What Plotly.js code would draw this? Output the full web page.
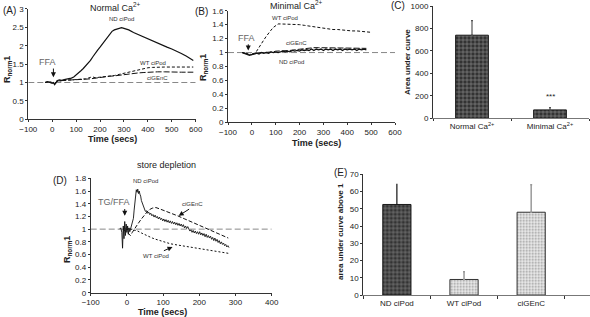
<!DOCTYPE html>
<html><head><meta charset="utf-8">
<script src="https://cdn.plot.ly/plotly-3.0.1.min.js"></script>
<style>html,body{margin:0;padding:0;background:#fff}#g{width:590px;height:317px}</style>
</head><body><div id="g"></div>
<script>
// ---- Panel A: Normal Ca2+ ----
const tA_nd = [-30,-20,-10,0,5,10,15,20,30,40,50,60,70,80,90,100,110,120,130,140,150,160,170,180,190,200,210,220,230,240,250,260,270,280,290,300,310,320,340,360,380,400,420,440,460,480,500,520,540,560,580,590];
const yA_nd = [1.00,1.02,1.00,0.98,1.00,0.94,0.98,1.05,1.07,1.06,1.08,1.09,1.10,1.12,1.15,1.20,1.26,1.32,1.38,1.45,1.52,1.60,1.70,1.80,1.88,1.96,2.04,2.13,2.22,2.31,2.39,2.43,2.45,2.46,2.49,2.47,2.46,2.43,2.36,2.30,2.24,2.18,2.12,2.07,2.01,1.96,1.91,1.86,1.79,1.72,1.64,1.60];
const tA_oth = [-30,-15,0,10,20,40,60,80,100,120,140,160,170,180,200,220,240,260,280,300,320,340,360,380,400,420,440,470,500,540,590];
const yA_wt  = [1.00,1.03,1.00,0.97,1.04,1.05,1.06,1.06,1.07,1.08,1.10,1.14,1.15,1.13,1.14,1.16,1.17,1.19,1.22,1.25,1.29,1.32,1.35,1.38,1.40,1.41,1.42,1.42,1.42,1.42,1.42];
const yA_gen = [1.00,1.02,0.99,0.98,1.03,1.06,1.07,1.07,1.07,1.08,1.09,1.10,1.11,1.12,1.14,1.16,1.17,1.18,1.20,1.22,1.24,1.25,1.26,1.27,1.28,1.29,1.29,1.29,1.28,1.28,1.28];

// ---- Panel B: Minimal Ca2+ ----
const tB_wt = [-40,-30,-20,-10,0,10,20,30,40,50,60,70,80,90,100,110,120,140,160,180,200,220,240,260,280,300,320,340,360,380,400,420,440,460,480,500];
const yB_wt = [1.00,0.99,0.98,0.97,0.98,0.99,1.02,1.08,1.13,1.18,1.23,1.28,1.32,1.36,1.39,1.41,1.41,1.41,1.41,1.40,1.40,1.39,1.38,1.36,1.35,1.34,1.34,1.33,1.33,1.32,1.32,1.31,1.31,1.30,1.30,1.29];
const tB_gen = [-40,-30,-20,-10,0,10,20,30,40,50,60,70,80,90,100,110,120,140,160,180,200,220,240,260,280,300,320,340,360,380,400,420,440,460,480];
const yB_gen = [1.00,0.99,0.98,0.97,0.97,0.98,0.99,1.00,1.00,1.00,1.00,1.01,1.01,1.01,1.02,1.02,1.02,1.03,1.03,1.04,1.05,1.06,1.07,1.07,1.07,1.07,1.07,1.07,1.07,1.06,1.07,1.06,1.06,1.06,1.06];
const tB_nd = [-40,-30,-20,-10,0,10,20,30,40,50,60,70,80,90,100,110,120,130,140,150,160,170,180,190,200,210,220,230,240,250,260,270,280,290,300,310,320,330,340,350,360,370,380,390,400,410,420,430,440,450,460,470,480];
const yB_nd = [1.00,0.99,0.98,0.96,0.97,0.98,0.99,0.98,1.00,0.99,1.00,0.99,1.01,1.00,1.01,1.00,1.01,1.02,1.01,1.02,1.01,1.03,1.02,1.03,1.02,1.04,1.03,1.04,1.03,1.05,1.03,1.05,1.04,1.05,1.03,1.05,1.04,1.05,1.03,1.05,1.04,1.05,1.03,1.05,1.04,1.05,1.04,1.05,1.03,1.05,1.04,1.05,1.04];

// ---- Panel C ----
const cCats = ['Normal Ca<sup>2+</sup>','Minimal Ca<sup>2+</sup>'];
const cVals = [740, 75];
const cErr  = [130, 20];

// ---- Panel D: store depletion ----
const tD_nd = [-20,-17,-14,-12,-10,-8,-6,-4,-2,0,2,4,6,8,10,12,14,16,18,20,22,24,26,28,30,32,34,36,38,40,42,45,48,51,54,57,60,63,66,69,72,75,78,81,84,87,90,93,96,99,102,105,108,111,114,117,120,123,126,129,132,135,138,141,144,147,150,153,156,159,162,165,168,171,174,177,180,183,186,189,192,195,198,201,204,207,210,213,216,219,222,225,228,231,234,237,240,243,246,249,252,255,258,261,264,267,270,273,276,279,282];
const yD_nd = [1.00,1.02,0.95,0.70,1.05,0.85,1.12,0.90,1.08,0.95,1.05,0.92,1.02,0.96,1.00,1.05,1.10,1.15,1.17,1.30,1.46,1.52,1.62,1.58,1.63,1.56,1.60,1.55,1.52,1.45,1.42,1.35,1.33,1.28,1.29,1.25,1.27,1.23,1.25,1.21,1.23,1.19,1.22,1.18,1.20,1.16,1.19,1.15,1.17,1.13,1.16,1.12,1.15,1.11,1.14,1.10,1.13,1.09,1.12,1.08,1.11,1.07,1.10,1.06,1.09,1.05,1.08,1.04,1.07,1.02,1.05,1.01,1.04,1.00,0.97,0.99,0.95,0.98,0.94,0.97,0.93,0.96,0.92,0.96,0.91,0.94,0.90,0.93,0.88,0.92,0.87,0.90,0.86,0.89,0.84,0.87,0.82,0.86,0.81,0.84,0.79,0.82,0.77,0.80,0.76,0.78,0.74,0.76,0.72,0.74,0.71];
const tD_gen = [-10,0,5,10,15,20,30,40,50,60,70,80,90,100,120,140,160,180,200,220,240,260,280];
const yD_gen = [1.00,0.95,0.92,0.90,0.95,1.00,1.08,1.16,1.24,1.30,1.33,1.34,1.32,1.30,1.26,1.21,1.16,1.11,1.06,1.01,0.96,0.91,0.86];
const tD_wt = [-10,-5,0,5,10,20,30,40,50,60,70,80,90,100,110,120,140,160,180,200,220,240,260,280];
const yD_wt = [1.00,1.03,0.97,1.02,1.00,0.99,0.97,0.94,0.91,0.88,0.86,0.84,0.82,0.80,0.78,0.77,0.75,0.73,0.715,0.70,0.68,0.66,0.64,0.62];

// ---- Panel E ----
const eCats = ['ND ciPod','WT ciPod','ciGEnC'];
const eVals = [52.5, 9, 48];
const eErr  = [12, 4.5, 16];

const W = 590, H = 317;
const px = (x) => x / W, py = (y) => 1 - y / H;
const FONT = 'Liberation Sans, Arial, sans-serif';

function line(x, y, xa, ya, dash, width) {
  return {type:'scatter', mode:'lines', x:x, y:y, xaxis:xa, yaxis:ya,
    line:{color:'#111', width:width || 1, dash:dash || 'solid'}, showlegend:false, hoverinfo:'skip'};
}

const darkMarker = {color:'#3c3c3c', line:{color:'#1a1a1a', width:1},
  pattern:{shape:'+', fgcolor:'#9a9a9a', bgcolor:'#333333', size:4, solidity:0.25}};
const lightMarker = {color:'#e0e0e0', line:{color:'#333', width:1},
  pattern:{shape:'.', fgcolor:'#999', bgcolor:'#ebebeb', size:3, solidity:0.3}};

const traces = [
  line(tA_oth, yA_gen, 'x', 'y', '6px,2px', 1),
  line(tA_oth, yA_wt, 'x', 'y', '3px,2px', 1),
  line(tA_nd, yA_nd, 'x', 'y', 'solid', 1.2),
  line(tB_gen, yB_gen, 'x2', 'y2', '6px,2px', 1),
  line(tB_nd, yB_nd, 'x2', 'y2', 'solid', 1.3),
  line(tB_wt, yB_wt, 'x2', 'y2', '3px,2px', 1),
  {type:'bar', x:cCats, y:cVals, xaxis:'x3', yaxis:'y3', width:0.42, marker:darkMarker,
   error_y:{type:'data', symmetric:false, array:cErr, arrayminus:[0,0], color:'#555', thickness:1.2, width:1},
   showlegend:false, hoverinfo:'skip'},
  line(tD_gen, yD_gen, 'x4', 'y4', '4px,2px', 1),
  line(tD_wt, yD_wt, 'x4', 'y4', '2px,2px', 1),
  line(tD_nd, yD_nd, 'x4', 'y4', 'solid', 0.9),
  {type:'bar', x:[eCats[0]], y:[eVals[0]], xaxis:'x5', yaxis:'y5', width:0.42, marker:darkMarker,
   error_y:{type:'data', symmetric:false, array:[eErr[0]], arrayminus:[0], color:'#111', thickness:1.2, width:0},
   showlegend:false, hoverinfo:'skip'},
  {type:'bar', x:eCats.slice(1), y:eVals.slice(1), xaxis:'x5', yaxis:'y5', width:0.42, marker:lightMarker,
   error_y:{type:'data', symmetric:false, array:eErr.slice(1), arrayminus:[0,0], color:'#999', thickness:1.5, width:1},
   showlegend:false, hoverinfo:'skip'}
];

function ax(domain, range, dtick, extra) {
  return Object.assign({domain:domain, range:range, dtick:dtick, showline:true, linecolor:'#333', linewidth:1,
    ticks:'outside', ticklen:2, tickcolor:'#333', showgrid:false, zeroline:false,
    tickfont:{family:FONT, size:8, color:'#222'}, fixedrange:true}, extra || {});
}

const layout = {
  width:W, height:H, margin:{l:0, r:0, t:0, b:0}, paper_bgcolor:'#fff', plot_bgcolor:'rgba(0,0,0,0)',
  barmode:'overlay', showlegend:false, font:{family:FONT, color:'#222'},
  xaxis:  ax([px(28.3), px(195.7)], [-100, 600], 100, {anchor:'y'}),
  yaxis:  ax([py(119.3), py(8.9)], [0, 3], 0.5, {anchor:'x'}),
  xaxis2: ax([px(228), px(395)], [-100, 600], 100, {anchor:'y2'}),
  yaxis2: ax([py(122.3), py(10.7)], [0, 1.6], 0.2, {anchor:'x2'}),
  xaxis3: ax([px(433), px(589)], [-0.5, 1.5], null, {anchor:'y3', type:'category', tickson:'boundaries', linecolor:'#777', ticklen:2}),
  yaxis3: ax([py(118.3), py(6)], [0, 1000], 200, {anchor:'x3'}),
  xaxis4: ax([px(90.7), px(271.7)], [-100, 400], 100, {anchor:'y4'}),
  yaxis4: ax([py(292.7), py(178.3)], [0, 1.8], 0.2, {anchor:'x4'}),
  xaxis5: ax([px(363.3), px(590)], [-0.5, 2.876], null, {anchor:'y5', type:'category', tickson:'boundaries', linecolor:'#777', ticklen:3}),
  yaxis5: ax([py(295), py(174.3)], [0, 70], 10, {anchor:'x5'}),
  shapes: [
    {type:'line', xref:'x', yref:'y', x0:-100, x1:600, y0:1, y1:1, line:{color:'#888', width:1, dash:'6px,3px'}, layer:'below'},
    {type:'line', xref:'x2', yref:'y2', x0:-100, x1:600, y0:1, y1:1, line:{color:'#888', width:1, dash:'6px,3px'}, layer:'below'},
    {type:'line', xref:'x4', yref:'y4', x0:-100, x1:400, y0:1, y1:1, line:{color:'#888', width:1, dash:'6px,3px'}, layer:'below'}
  ],
  annotations: []
};

function txt(x, y, text, size, opts) {
  layout.annotations.push(Object.assign({xref:'paper', yref:'paper', x:px(x), y:py(y), text:text, showarrow:false,
    xanchor:'center', yanchor:'middle', font:{family:FONT, size:size, color:'#222'}}, opts || {}));
}
function dtxt(xr, yr, x, y, text, size, color) {
  layout.annotations.push({xref:xr, yref:yr, x:x, y:y, text:text, showarrow:false, xanchor:'center', yanchor:'middle',
    font:{family:FONT, size:size, color:color || '#333'}});
}
function arrow(xr, yr, x, y, ax_, ay_) {
  layout.annotations.push({xref:xr, yref:yr, x:x, y:y, text:'', showarrow:true, axref:xr, ayref:yr, ax:ax_, ay:ay_,
    arrowhead:2, arrowsize:1, arrowwidth:1, arrowcolor:'#111'});
}

// panel letters
txt(9, 10, '(A)', 10);
txt(201, 11, '(B)', 10);
txt(398, 6, '(C)', 10);
txt(60, 180, '(D)', 10);
txt(340, 172, '(E)', 10);
// titles
txt(115, 7, 'Normal Ca<sup>2+</sup>', 9);
txt(297, 5, 'Minimal Ca<sup>2+</sup>', 9);
txt(166, 165, 'store depletion', 9);
// axis titles
const rn = '<b>R<sub>norm</sub>1</b>';
txt(8, 70, rn, 9, {textangle:-90});
txt(203, 68, rn, 9, {textangle:-90});
txt(67, 250, rn, 9, {textangle:-90});
txt(112, 139, '<b>Time (secs)</b>', 9);
txt(316, 143, '<b>Time (secs)</b>', 9);
txt(163, 312, '<b>Time (secs)</b>', 9);
txt(407, 62, '<b>Area under curve</b>', 8, {textangle:-90});
txt(340, 232, '<b>area under curve above 1</b>', 8, {textangle:-90});

// in-plot labels A
dtxt('x', 'y', 291, 2.72, 'ND ciPod', 6);
dtxt('x', 'y', 420, 1.53, 'WT ciPod', 6);
dtxt('x', 'y', 440, 1.13, 'ciGEnC', 6);
dtxt('x', 'y', -20, 1.55, 'FFA', 9, '#666');
arrow('x', 'y', 5, 1.14, 5, 1.42);
// B
dtxt('x2', 'y2', 140, 1.49, 'WT ciPod', 6);
dtxt('x2', 'y2', 188, 1.14, 'ciGEnC', 6);
dtxt('x2', 'y2', 168, 0.87, 'ND ciPod', 6);
dtxt('x2', 'y2', -22, 1.21, 'FFA', 9, '#666');
arrow('x2', 'y2', -15, 1.03, -15, 1.14);
// C
dtxt('x3', 'y3', 1, 190, '***', 8, '#222');
// D
dtxt('x4', 'y4', 52, 1.76, 'ND ciPod', 6);
dtxt('x4', 'y4', 182, 1.39, 'ciGEnC', 6);
dtxt('x4', 'y4', 80, 0.57, 'WT ciPod', 6);
dtxt('x4', 'y4', -36, 1.42, 'TG/FFA', 9, '#666');
arrow('x4', 'y4', -6, 1.21, -6, 1.34);
arrow('x4', 'y4', 143, 1.21, 176, 1.33);
arrow('x4', 'y4', 126, 0.72, 98, 0.65);

Plotly.newPlot('g', traces, layout, {staticPlot:true, displayModeBar:false});
</script>
</body></html>
